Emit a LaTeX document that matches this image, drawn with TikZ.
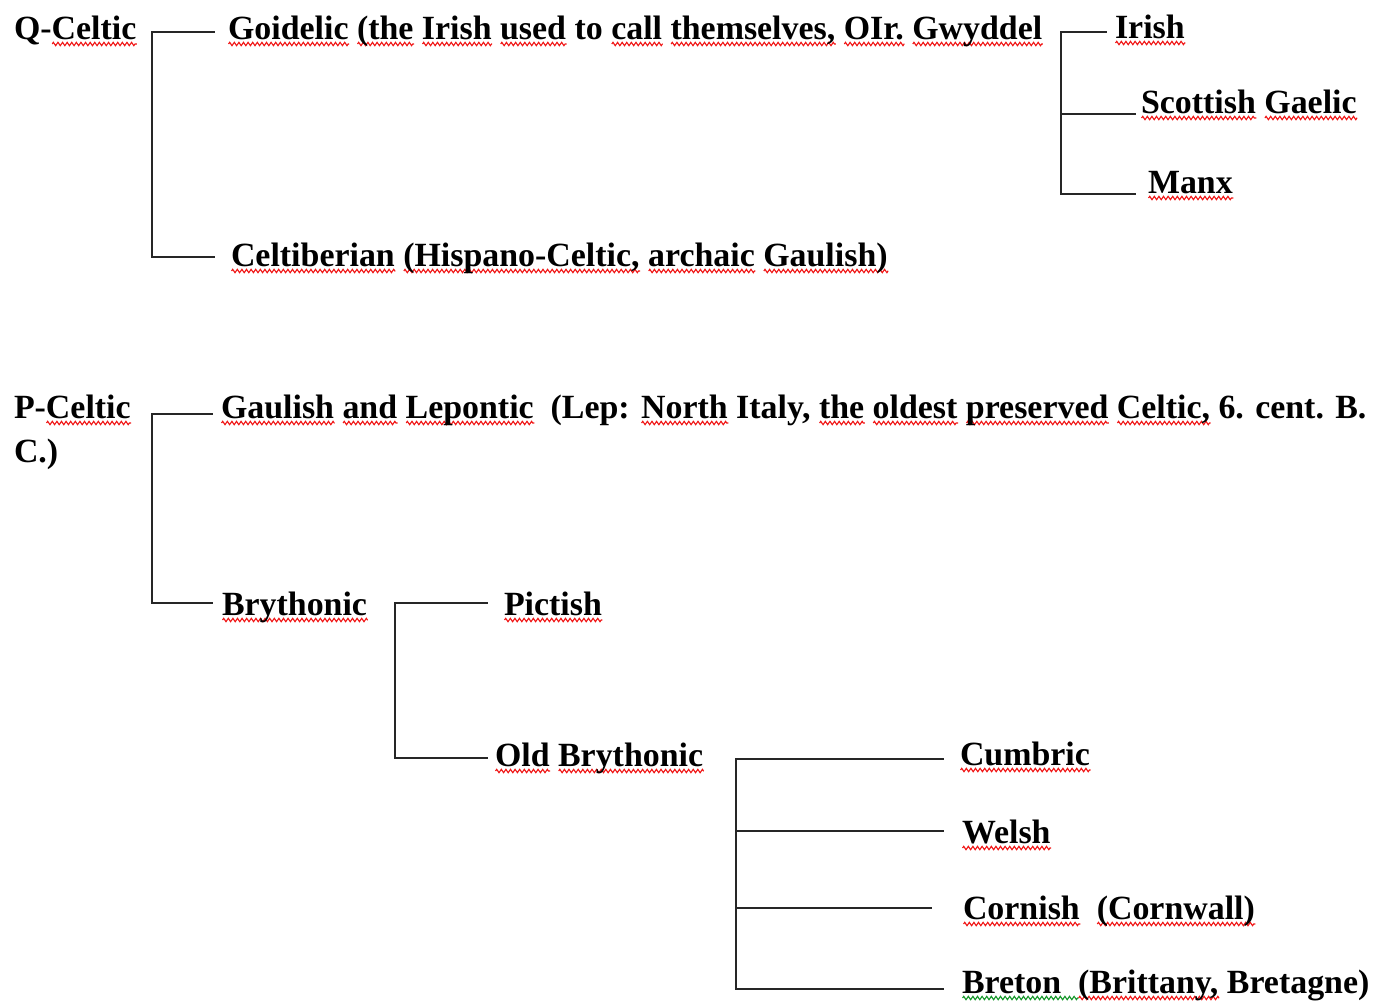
\documentclass[tikz,border=0pt]{standalone}
\usepackage{fontspec}
\setmainfont{Liberation Serif}
\usetikzlibrary{decorations.pathmorphing}
\definecolor{spellred}{RGB}{240,20,20}
\definecolor{gramgreen}{RGB}{20,150,40}
\newsavebox\wvbox
\newlength\wvlen
\newcommand\wavyul[2][spellred]{\sbox\wvbox{#2}\setlength\wvlen{\wd\wvbox}\rlap{\tikz[baseline=0pt]\draw[#1,line width=1.1bp,decorate,decoration={zigzag,amplitude=1.7bp,segment length=4.6bp}] (0pt,-5bp) -- (\wvlen,-5bp);}\usebox\wvbox}
\tikzset{
  lbl/.style={anchor=base west, inner sep=0pt, outer sep=0pt, font=\fontsize{33.9bp}{40bp}\selectfont\bfseries},
  conn/.style={draw=black!85, line width=2.3bp, line cap=rect}
}
\begin{document}
\begin{tikzpicture}[x=1bp,y=-1bp]
\useasboundingbox (0,0) rectangle (1379,1000);
% texts
\node[lbl] (qc) at (14,39) {Q-\wavyul{Celtic}};
\node[lbl] (goid) at (228,39) {\wavyul{Goidelic} \wavyul{(the} \wavyul{Irish} \wavyul{used} to \wavyul{call} \wavyul{themselves,} \wavyul{OIr.} \wavyul{Gwyddel}};
\node[lbl] (irish) at (1115,38) {\wavyul{Irish}};
\node[lbl] (scot) at (1141,113) {\wavyul{Scottish} \wavyul{Gaelic}};
\node[lbl] (manx) at (1148,193) {\wavyul{Manx}};
\node[lbl] (celtib) at (231,266) {\wavyul{Celtiberian} \wavyul{(Hispano-Celtic,} \wavyul{archaic} \wavyul{Gaulish)}};
\node[lbl] (pc) at (14,418) {P-\wavyul{Celtic}};
\node[lbl] (gaul) at (221,418) {\wavyul{Gaulish} \wavyul{and} \wavyul{Lepontic}~ (Lep: \wavyul{North} Italy, \wavyul{the} \wavyul{oldest} \wavyul{preserved} \wavyul{Celtic,} 6. cent. B.};
\node[lbl] (gaul2) at (14,462) {C.)};
\node[lbl] (bry) at (222,615) {\wavyul{Brythonic}};
\node[lbl] (pict) at (504,615) {\wavyul{Pictish}};
\node[lbl] (obry) at (495,766) {\wavyul{Old} \wavyul{Brythonic}};
\node[lbl] (cumb) at (960,765) {\wavyul{Cumbric}};
\node[lbl] (welsh) at (962,843) {\wavyul{Welsh}};
\node[lbl] (corn) at (963,919) {\wavyul{Cornish}~ \wavyul{(Cornwall)}};
\node[lbl] (bret) at (962,993) {\wavyul[gramgreen]{Breton~ }\wavyul{(Brittany,} Bretagne)};
% bracket coordinates
\coordinate (q0) at (152,32);   \coordinate (q1) at (214,32);   \coordinate (q2) at (214,257);
\coordinate (g0) at (1061,32);  \coordinate (g1) at (1106,32);  \coordinate (g2) at (1135,114); \coordinate (g3) at (1135,194);
\coordinate (p0) at (152,414);  \coordinate (p1) at (212,414);  \coordinate (p2) at (212,603);
\coordinate (b0) at (395,603);  \coordinate (b1) at (487,603);  \coordinate (b2) at (487,758);
\coordinate (o0) at (736,759);  \coordinate (o1) at (943,759);  \coordinate (o2) at (943,831); \coordinate (o3) at (931,908); \coordinate (o4) at (943,989);
% connectors
\draw[conn] (q1) -- (q0) |- (q2);
\draw[conn] (g1) -- (g0) |- (g3);
\draw[conn] (g0 |- g2) -- (g2);
\draw[conn] (p1) -- (p0) |- (p2);
\draw[conn] (b1) -- (b0) |- (b2);
\draw[conn] (o1) -- (o0) |- (o4);
\draw[conn] (o0 |- o2) -- (o2);
\draw[conn] (o0 |- o3) -- (o3);
\end{tikzpicture}
\end{document}
